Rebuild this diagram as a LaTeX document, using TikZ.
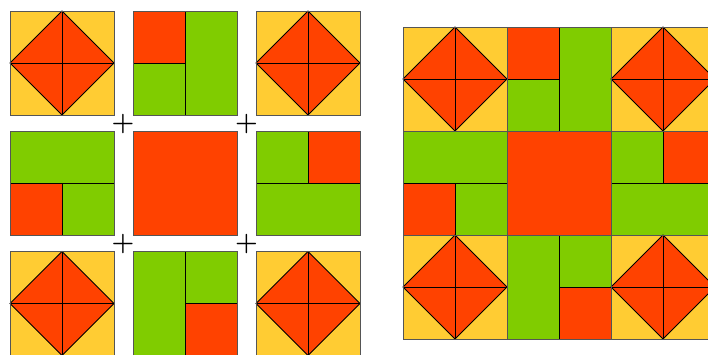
\documentclass[tikz,border=0pt]{standalone}
\usepackage{tikz}
\definecolor{tileyel}{HTML}{FFCC33}
\definecolor{tilered}{HTML}{FF4200}
\definecolor{tilegrn}{HTML}{80CC00}
\definecolor{edgegray}{HTML}{555555}
\tikzset{
  inner/.style={draw=black, line width=0.8pt},
  border/.style={draw=edgegray, line width=0.9pt},
  plussign/.style={inner sep=0pt, font=\fontsize{26}{26}\selectfont\bfseries},
  tilecorner/.pic={
    \fill[tileyel] (0,0) rectangle (104,104);
    \filldraw[fill=tilered, inner] (52,0) -- (104,52) -- (52,104) -- (0,52) -- cycle;
    \draw[inner] (52,0) -- (52,104) (0,52) -- (104,52);
    \draw[border] (0,0) rectangle (104,104);
  },
  tiletop/.pic={
    \fill[tilegrn] (0,0) rectangle (104,104);
    \fill[tilered] (0,0) rectangle (52,52);
    \draw[inner] (52,0) -- (52,104) (0,52) -- (52,52);
    \draw[border] (0,0) rectangle (104,104);
  },
  tileleft/.pic={
    \fill[tilegrn] (0,0) rectangle (104,104);
    \fill[tilered] (0,52) rectangle (52,104);
    \draw[inner] (0,52) -- (104,52) (52,52) -- (52,104);
    \draw[border] (0,0) rectangle (104,104);
  },
  tilecenter/.pic={
    \fill[tilered] (0,0) rectangle (104,104);
    \draw[border] (0,0) rectangle (104,104);
  },
  tileright/.pic={
    \fill[tilegrn] (0,0) rectangle (104,104);
    \fill[tilered] (52,0) rectangle (104,52);
    \draw[inner] (0,52) -- (104,52) (52,0) -- (52,52);
    \draw[border] (0,0) rectangle (104,104);
  },
  tilebottom/.pic={
    \fill[tilegrn] (0,0) rectangle (104,104);
    \fill[tilered] (52,52) rectangle (104,104);
    \draw[inner] (52,0) -- (52,104) (52,52) -- (104,52);
    \draw[border] (0,0) rectangle (104,104);
  }
}
\begin{document}
\begin{tikzpicture}[x=1pt,y=-1pt]
  \useasboundingbox (0,0) rectangle (708,354);
  \clip (0,0) rectangle (708,354);
  \fill[white] (0,0) rectangle (708,354);
  % left: separated tiles
  \pic at (10,11) {tilecorner};
  \pic at (133,11) {tiletop};
  \pic at (256,11) {tilecorner};
  \pic at (10,131) {tileleft};
  \pic at (133,131) {tilecenter};
  \pic at (256,131) {tileright};
  \pic at (10,251.5) {tilecorner};
  \pic at (133,251.5) {tilebottom};
  \pic at (256,251.5) {tilecorner};
  % plus signs
  \node[plussign] (p1) at (123,124) {+};
  \node[plussign] (p2) at (246.5,124) {+};
  \node[plussign] (p3) at (123,244) {+};
  \node[plussign] (p4) at (246.5,244) {+};
  % right: assembled block
  \pic at (403,27) {tilecorner};
  \pic at (507,27) {tiletop};
  \pic at (611,27) {tilecorner};
  \pic at (403,131) {tileleft};
  \pic at (507,131) {tilecenter};
  \pic at (611,131) {tileright};
  \pic at (403,235) {tilecorner};
  \pic at (507,235) {tilebottom};
  \pic at (611,235) {tilecorner};
\end{tikzpicture}
\end{document}
